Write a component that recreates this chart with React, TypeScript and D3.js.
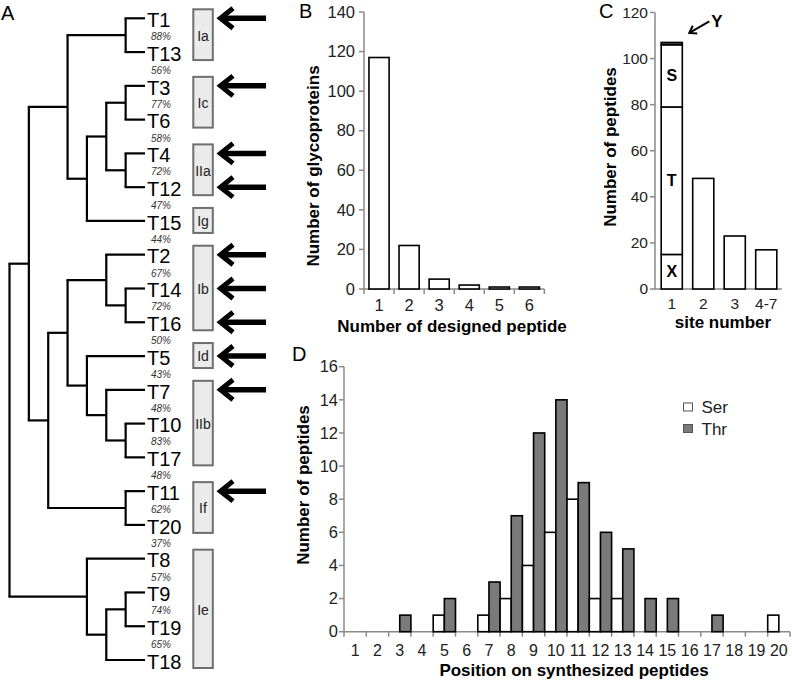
import React from "react";
import * as d3 from "d3";

const FONT = "'Liberation Sans', Arial, Helvetica, sans-serif";
const AXIS = "#8a8a8a";

// ---- A: clustering tree (nested pairs, leaves are names)
const tree = [
  [
    [["T1", "T13"], [[["T3", "T6"], ["T4", "T12"]], "T15"]],
    [[["T2", ["T14", "T16"]], ["T5", ["T7", ["T10", "T17"]]]], ["T11", "T20"]],
  ],
  ["T8", [["T9", "T19"], "T18"]],
];
const similarity = ["88%", "56%", "77%", "58%", "72%", "47%", "44%", "67%", "72%", "50%",
  "43%", "48%", "83%", "48%", "62%", "37%", "57%", "74%", "65%"];
const groupNames = ["Ia", "Ic", "IIa", "Ig", "Ib", "Id", "IIb", "If", "Ie"];
const groupFirst = ["T1", "T3", "T4", "T15", "T2", "T5", "T7", "T11", "T8"];
const groupLast = ["T13", "T6", "T12", "T15", "T16", "T5", "T17", "T20", "T18"];
const arrowLeaves = ["T1", "T3", "T4", "T12", "T2", "T14", "T16", "T5", "T7", "T11"];

// ---- B
const bCats = ["1", "2", "3", "4", "5", "6"];
const bValues = [117, 22, 5, 2, 1, 1];
const bTicks = [0, 20, 40, 60, 80, 100, 120, 140];

// ---- C
const cCats = ["1", "2", "3", "4-7"];
const cTotals = [107, 48, 23, 17];
const cSegNames = ["X", "T", "S", "Y"];
const cSegValues = [15, 64, 27, 1];
const cTicks = [0, 20, 40, 60, 80, 100, 120];

// ---- D
const dPos = ["1", "2", "3", "4", "5", "6", "7", "8", "9", "10",
  "11", "12", "13", "14", "15", "16", "17", "18", "19", "20"];
const dSer = [0, 0, 0, 0, 1, 0, 1, 2, 4, 6, 8, 2, 2, 0, 0, 0, 0, 0, 0, 1];
const dThr = [0, 0, 1, 0, 2, 0, 3, 7, 12, 14, 9, 6, 5, 2, 2, 0, 1, 0, 0, 0];
const dTicks = [0, 2, 4, 6, 8, 10, 12, 14, 16];
const dKeys = ["Ser", "Thr"];
const dColors = ["#ffffff", "#7a7a7a"];

function Tree() {
  const root: any = d3.hierarchy(tree as any, (d: any) => (Array.isArray(d) ? d : null));
  const leaves = root.leaves();
  const leafY = d3.scaleLinear().domain([0, leaves.length - 1]).range([18.3, 660]);
  const hx = d3.scaleLinear().domain([0, root.height]).range([145, 9.5]);
  leaves.forEach((l: any, i: number) => (l.py = leafY(i)));
  root.eachAfter((n: any) => {
    n.px = hx(n.height);
    if (n.children) n.py = (n.children[0].py + n.children[n.children.length - 1].py) / 2;
  });
  const byName: any = {};
  leaves.forEach((l: any) => (byName[l.data] = l));
  const nodes = root.descendants();
  return (
    <g>
      {nodes.filter((n: any) => n.children).map((n: any, i: number) => (
        <path key={"v" + i} d={`M${n.px},${n.children[0].py}V${n.children[n.children.length - 1].py}`}
          stroke="#000" strokeWidth={2.2} fill="none" />
      ))}
      {nodes.filter((n: any) => n.parent).map((n: any, i: number) => (
        <path key={"h" + i} d={`M${n.parent.px - 1.1},${n.py}H${n.px}`} stroke="#000" strokeWidth={2.2} fill="none" />
      ))}
      {leaves.map((l: any) => (
        <text key={l.data} x={147} y={l.py + 1.7} dy="0.35em" fontSize={20} fontFamily={FONT}>{l.data}</text>
      ))}
      {similarity.map((s, i) => (
        <text key={"s" + i} x={161} y={(leafY(i) + leafY(i + 1)) / 2 + 1.5} dy="0.35em" textAnchor="middle"
          fontSize={10} fontStyle="italic" fill="#333" fontFamily={FONT}>{s}</text>
      ))}
      {groupNames.map((g, i) => {
        const a = byName[groupFirst[i]].py, b = byName[groupLast[i]].py;
        const pad = a === b ? 13 : 9;
        const y0 = a - pad, y1 = b + pad - 1;
        return (
          <g key={g}>
            <rect x={193.3} y={y0} width={19.5} height={y1 - y0} fill="#ebebeb" stroke="#6e6e6e" strokeWidth={2} />
            <text x={203} y={(y0 + y1) / 2 + 1} dy="0.35em" textAnchor="middle" fontSize={14} fill="#222" fontFamily={FONT}>{g}</text>
          </g>
        );
      })}
      {arrowLeaves.map((n) => {
        const y = byName[n].py;
        return (
          <g key={"a" + n} stroke="#000" fill="none">
            <path d={`M224,${y}H266`} strokeWidth={5.5} />
            <path d={`M233,${y - 10}L220.5,${y}L233,${y + 10}`} strokeWidth={5} strokeLinejoin="miter" />
          </g>
        );
      })}
      <text x={1} y={12.5} dy="0.35em" fontSize={20} fontFamily={FONT}>A</text>
    </g>
  );
}

function PanelB() {
  const x = d3.scaleBand().domain(bCats).range([364, 544.4]).paddingInner(0.33).paddingOuter(0.165);
  const y = d3.scaleLinear().domain([0, 140]).range([289, 12]);
  const [r0, r1] = x.range();
  const bounds = d3.range(bCats.length + 1).map((i) => r0 + i * x.step());
  return (
    <g fontFamily={FONT}>
      <path d={`M${r0},${y(140)}V${y(0)}H${r1}`} stroke={AXIS} strokeWidth={1.5} fill="none" />
      {bTicks.map((t) => (
        <g key={t}>
          <line x1={r0 - 5} x2={r0} y1={y(t)} y2={y(t)} stroke={AXIS} strokeWidth={1.5} />
          <text x={355} y={y(t)} dy="0.35em" textAnchor="end" fontSize={16.5} fill="#222">{t}</text>
        </g>
      ))}
      {bounds.map((b, i) => (
        <line key={i} x1={b} x2={b} y1={y(0)} y2={y(0) + 5} stroke={AXIS} strokeWidth={1.5} />
      ))}
      {bCats.map((c, i) => (
        <g key={c}>
          <rect x={x(c)} y={y(bValues[i])} width={x.bandwidth()} height={y(0) - y(bValues[i])}
            fill="#fff" stroke="#000" strokeWidth={1.6} />
          <text x={(x(c) as number) + x.bandwidth() / 2} y={305} dy="0.35em" textAnchor="middle" fontSize={16.5} fill="#222">{c}</text>
        </g>
      ))}
      <text x={452} y={326} dy="0.35em" textAnchor="middle" fontSize={17} fontWeight="bold">Number of designed peptide</text>
      <text transform={`translate(313,166) rotate(-90)`} dy="0.35em" textAnchor="middle" fontSize={17} fontWeight="bold">Number of glycoproteins</text>
      <text x={299} y={10.5} dy="0.35em" fontSize={20}>B</text>
    </g>
  );
}

function PanelC() {
  const x = d3.scaleBand().domain(cCats).range([656, 782]).paddingInner(0.33).paddingOuter(0.165);
  const y = d3.scaleLinear().domain([0, 120]).range([289, 12.5]);
  const stack = d3.cumsum(cSegValues);
  const bx = x("1") as number, bw = x.bandwidth();
  const top = y(cTotals[0]);
  const tip = [bx + bw + 7, top - 9.5];
  const tail = [tip[0] + 20, tip[1] - 11.5];
  const ang = Math.atan2(tail[1] - tip[1], tail[0] - tip[0]);
  const head = [-0.6, 0.6].map((da) => [tip[0] + 8 * Math.cos(ang + da), tip[1] + 8 * Math.sin(ang + da)]);
  return (
    <g fontFamily={FONT}>
      <path d={`M655,${y(120)}V${y(0)}H782`} stroke={AXIS} strokeWidth={1.5} fill="none" />
      {cTicks.map((t) => (
        <g key={t}>
          <line x1={650} x2={655} y1={y(t)} y2={y(t)} stroke={AXIS} strokeWidth={1.5} />
          <text x={648} y={y(t)} dy="0.35em" textAnchor="end" fontSize={15.5} fill="#222">{t}</text>
        </g>
      ))}
      {cSegNames.map((s, i) => {
        const lo = i === 0 ? 0 : stack[i - 1], hi = stack[i];
        return (
          <g key={s}>
            <rect x={bx} y={y(hi)} width={bw} height={y(lo) - y(hi)} fill={s === "Y" ? "#4a4a4a" : "#fff"}
              stroke="#000" strokeWidth={1.6} />
            {s !== "Y" && (
              <text x={bx + bw / 2} y={y((lo + hi) / 2)} dy="0.35em" textAnchor="middle" fontSize={16} fontWeight="bold">{s}</text>
            )}
          </g>
        );
      })}
      {cCats.slice(1).map((c, i) => (
        <rect key={c} x={x(c)} y={y(cTotals[i + 1])} width={bw} height={y(0) - y(cTotals[i + 1])}
          fill="#fff" stroke="#000" strokeWidth={1.6} />
      ))}
      {cCats.map((c) => (
        <text key={c} x={(x(c) as number) + bw / 2} y={304} dy="0.35em" textAnchor="middle" fontSize={15.5} fill="#222">{c}</text>
      ))}
      <path d={`M${tail[0]},${tail[1]}L${tip[0]},${tip[1]}`} stroke="#000" strokeWidth={2} />
      <path d={`M${head[0][0]},${head[0][1]}L${tip[0]},${tip[1]}L${head[1][0]},${head[1][1]}`} stroke="#000" strokeWidth={2} fill="none" />
      <text x={tail[0] + 2} y={tail[1]} dy="0.35em" fontSize={17} fontWeight="bold">{cSegNames[3]}</text>
      <text x={723} y={322} dy="0.35em" textAnchor="middle" fontSize={17} fontWeight="bold">site number</text>
      <text transform={`translate(610,147) rotate(-90)`} dy="0.35em" textAnchor="middle" fontSize={17} fontWeight="bold">Number of peptides</text>
      <text x={599} y={11} dy="0.35em" fontSize={20}>C</text>
    </g>
  );
}

function PanelD() {
  const x = d3.scaleBand().domain(dPos).range([344, 790]);
  const sub = d3.scaleBand().domain(dKeys).range([0, x.bandwidth()]);
  const y = d3.scaleLinear().domain([0, 16]).range([631.7, 366.7]);
  const series = [dSer, dThr];
  const bounds = d3.range(dPos.length + 1).map((i) => 344 + i * x.step());
  return (
    <g fontFamily={FONT}>
      <path d={`M344,${y(16)}V${y(0)}H790`} stroke={AXIS} strokeWidth={1.5} fill="none" />
      {dTicks.map((t) => (
        <g key={t}>
          <line x1={339} x2={344} y1={y(t)} y2={y(t)} stroke={AXIS} strokeWidth={1.5} />
          <text x={338} y={y(t)} dy="0.35em" textAnchor="end" fontSize={16.5} fill="#222">{t}</text>
        </g>
      ))}
      {bounds.map((b, i) => (
        <line key={i} x1={b} x2={b} y1={y(0)} y2={y(0) + 5} stroke={AXIS} strokeWidth={1.5} />
      ))}
      {dPos.map((p, i) => (
        <g key={p}>
          {dKeys.map((k, j) => series[j][i] > 0 ? (
            <rect key={k} x={(x(p) as number) + (sub(k) as number)} y={y(series[j][i])} width={sub.bandwidth()}
              height={y(0) - y(series[j][i])} fill={dColors[j]} stroke="#000" strokeWidth={1.6} />
          ) : null)}
          <text x={(x(p) as number) + x.bandwidth() / 2} y={650} dy="0.35em" textAnchor="middle" fontSize={16} fill="#222">{p}</text>
        </g>
      ))}
      {dKeys.map((k, j) => (
        <g key={k}>
          <rect x={683.5} y={403 + j * 21.5} width={9} height={8} fill={dColors[j]} stroke="#555" strokeWidth={1} />
          <text x={701.5} y={407.5 + j * 21.5} dy="0.35em" fontSize={17} fill="#222">{k}</text>
        </g>
      ))}
      <text x={574} y={670} dy="0.35em" textAnchor="middle" fontSize={17} fontWeight="bold">Position on synthesized peptides</text>
      <text transform={`translate(303,485) rotate(-90)`} dy="0.35em" textAnchor="middle" fontSize={17} fontWeight="bold">Number of peptides</text>
      <text x={292} y={353.5} dy="0.35em" fontSize={20}>D</text>
    </g>
  );
}

export default function App() {
  return (
    <div style={{ position: "absolute", left: 0, top: 0 }}>
      <svg width={792} height={681} style={{ display: "block", background: "#fff" }}>
        <Tree />
        <PanelB />
        <PanelC />
        <PanelD />
      </svg>
    </div>
  );
}
